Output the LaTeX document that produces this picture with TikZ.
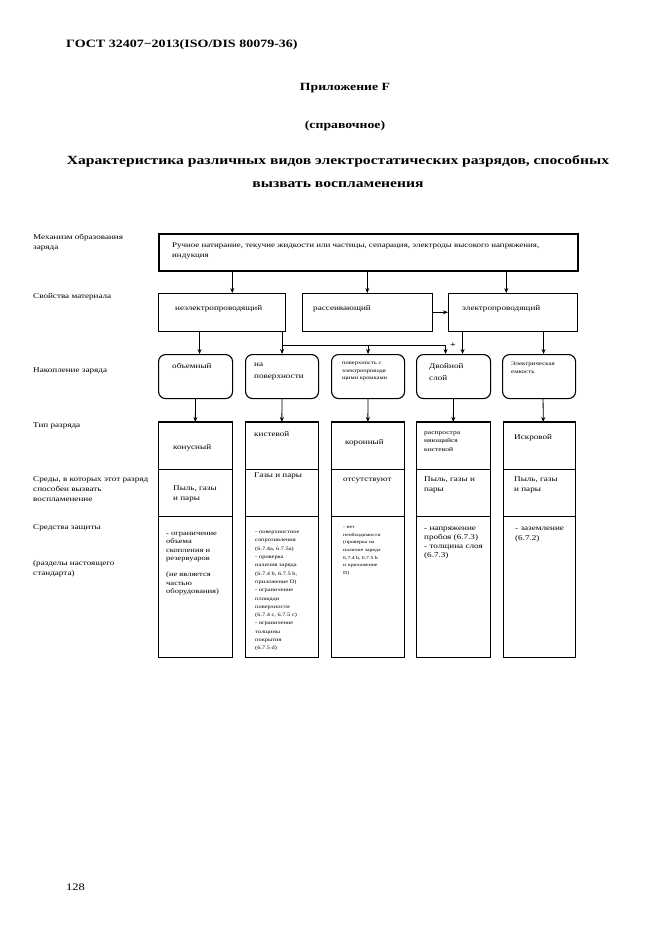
\documentclass[tikz,border=0pt]{standalone}
\usepackage{fontspec}
\setmainfont[FakeStretch=1.25]{Liberation Serif}
\usetikzlibrary{arrows.meta}

\tikzset{
  txt/.style={anchor=north west, inner sep=0pt, align=left, font=\fontsize{7.3}{10}\selectfont},
  sqbox/.style={draw, line width=0.6pt, anchor=north west, inner sep=0pt, minimum height=38pt},
  oval/.style={draw, line width=1.1pt, rounded corners=7pt, anchor=north west, inner sep=0pt, minimum height=44pt},
  cell/.style={draw, line width=0.6pt, anchor=north west, inner sep=0pt},
  arr/.style={-{Stealth[length=5pt,width=4pt]}, line width=0.8pt},
}

\begin{document}
\begin{tikzpicture}[x=1pt,y=-1pt]
\useasboundingbox (0,0) rectangle (661,935);

% page heading
\node[anchor=west, inner sep=0pt, font=\bfseries\fontsize{11.2}{13}\selectfont] (hdr) at (66,45) {ГОСТ 32407−2013(ISO/DIS 80079-36)};
\node[font=\bfseries\fontsize{11}{13}\selectfont] (app) at (345,88) {Приложение F};
\node[font=\bfseries\fontsize{11}{13}\selectfont] (ref) at (345,126) {(справочное)};
\node[align=center, font=\bfseries\fontsize{12.5}{23}\selectfont] (ttl) at (338,172) {Характеристика различных видов электростатических разрядов, способных\\вызвать воспламенения};
\node[anchor=west, inner sep=0pt, font=\fontsize{10}{12}\selectfont] (pg) at (66,887) {128};

% row captions
\node[txt] (l1) at (33,234) {Механизм образования\\заряда};
\node[txt] (l2) at (33,293) {Свойства материала};
\node[txt] (l3) at (33,368) {Накопление заряда};
\node[txt] (l4) at (33,423) {Тип разряда};
\node[txt] (l5) at (33,476) {Среды, в которых этот разряд\\способен вызвать\\воспламенение};
\node[txt] (l6) at (33,524) {Средства защиты};
\node[txt] (l7) at (33,560) {(разделы настоящего\\стандарта)};

% mechanism and material
\node[draw, line width=1.6pt, anchor=north west, inner sep=0pt, minimum width=419pt, minimum height=37pt] (mech) at (158,233) {};
\node[txt, font=\fontsize{7.15}{10}\selectfont] (mecht) at (172,243) {Ручное натирание, текучие жидкости или частицы, сепарация, электроды высокого напряжения,\\индукция};
\node[sqbox, minimum width=127pt] (nonc) at (158,293) {};
\node[sqbox, minimum width=130pt] (diss) at (302,293) {};
\node[sqbox, minimum width=129pt] (cond) at (448,293) {};
\node[txt] (nonct) at (175,305) {неэлектропроводящий};
\node[txt] (disst) at (313,305) {рассеивающий};
\node[txt] (condt) at (462,305) {электропроводящий};

% charge accumulation
\node[oval, minimum width=74pt] (vol) at (158,354) {};
\node[oval, minimum width=73pt] (surf) at (245,354) {};
\node[oval, minimum width=73pt] (edge) at (331,354) {};
\node[oval, minimum width=74pt] (dbl) at (416,354) {};
\node[oval, minimum width=73pt] (cap) at (502,354) {};
\node[txt] (volt) at (172,363) {объемный};
\node[txt, font=\fontsize{7.3}{12}\selectfont] (surft) at (254,363) {на\\поверхности};
\node[txt, font=\fontsize{5.2}{7.5}\selectfont] (edget) at (342,362) {поверхность с\\электропроводя\\щими кромками};
\node[txt, font=\fontsize{7.3}{12}\selectfont] (dblt) at (429,363) {Двойной\\слой};
\node[txt, font=\fontsize{5.5}{8}\selectfont] (capt) at (511,362) {Электрическая\\емкость};
\node[font=\bfseries\fontsize{8}{9}\selectfont, inner sep=0pt] (plus) at (453,345) {+};

% discharge columns
\node[cell, minimum width=74pt, minimum height=47pt] (t1) at (158,422) {};
\node[cell, minimum width=74pt, minimum height=47pt] (m1) at (158,469) {};
\node[cell, minimum width=74pt, minimum height=141pt] (p1) at (158,516) {};
\node[cell, minimum width=73pt, minimum height=47pt] (t2) at (245,422) {};
\node[cell, minimum width=73pt, minimum height=47pt] (m2) at (245,469) {};
\node[cell, minimum width=73pt, minimum height=141pt] (p2) at (245,516) {};
\node[cell, minimum width=73pt, minimum height=47pt] (t3) at (331,422) {};
\node[cell, minimum width=73pt, minimum height=47pt] (m3) at (331,469) {};
\node[cell, minimum width=73pt, minimum height=141pt] (p3) at (331,516) {};
\node[cell, minimum width=74pt, minimum height=47pt] (t4) at (416,422) {};
\node[cell, minimum width=74pt, minimum height=47pt] (m4) at (416,469) {};
\node[cell, minimum width=74pt, minimum height=141pt] (p4) at (416,516) {};
\node[cell, minimum width=72pt, minimum height=47pt] (t5) at (503,422) {};
\node[cell, minimum width=72pt, minimum height=47pt] (m5) at (503,469) {};
\node[cell, minimum width=72pt, minimum height=141pt] (p5) at (503,516) {};
\draw[line width=1.6pt] (t1.north west) -- (t1.north east) (p1.south west) -- (p1.south east);
\draw[line width=1.6pt] (t2.north west) -- (t2.north east) (p2.south west) -- (p2.south east);
\draw[line width=1.6pt] (t3.north west) -- (t3.north east) (p3.south west) -- (p3.south east);
\draw[line width=1.6pt] (t4.north west) -- (t4.north east) (p4.south west) -- (p4.south east);
\draw[line width=1.6pt] (t5.north west) -- (t5.north east) (p5.south west) -- (p5.south east);
\draw[line width=1.1pt] (t1.north east) -- (p1.south east) (t2.north east) -- (p2.south east)
  (t3.north east) -- (p3.south east) (t4.north east) -- (p4.south east) (t5.north east) -- (p5.south east);

\node[txt] (t1t) at (173,444) {конусный};
\node[txt] (t2t) at (254,431) {кистевой};
\node[txt] (t3t) at (345,439) {коронный};
\node[txt, font=\fontsize{6}{8.5}\selectfont] (t4t) at (424,431) {распростра\\няющийся\\кистевой};
\node[txt] (t5t) at (514,434) {Искровой};
\node[txt] (m1t) at (173,486) {Пыль, газы\\и пары};
\node[txt] (m2t) at (254,473) {Газы и пары};
\node[txt] (m3t) at (343,478) {отсутствуют};
\node[txt] (m4t) at (424,477) {Пыль, газы и\\пары};
\node[txt] (m5t) at (514,477) {Пыль, газы\\и пары};
\node[txt, font=\fontsize{6.8}{8.3}\selectfont] (p1t) at (166,532) {- ограничение\\объема\\скопления и\\резервуаров\\[8.3pt](не является\\частью\\оборудования)};
\node[txt, font=\fontsize{5.1}{8.3}\selectfont] (p2t) at (255,531) {- поверхностное\\сопротивления\\(6.7.4a, 6.7.5a)\\- проверка\\наличия заряда\\(6.7.4 b, 6.7.5 b,\\приложение D)\\- ограничение\\площади\\поверхности\\(6.7.4 c, 6.7.5 c)\\- ограничение\\толщины\\покрытия\\(6.7.5 d)};
\node[txt, font=\fontsize{4.6}{7.7}\selectfont] (p3t) at (343,526) {- нет\\необходимости\\(проверка на\\наличие заряда\\6.7.4 b, 6.7.5 b\\и приложение\\D)};
\node[txt, font=\fontsize{7.3}{9}\selectfont] (p4t) at (424,527) {- напряжение\\пробоя (6.7.3)\\- толщина слоя\\(6.7.3)};
\node[txt] (p5t) at (515,527) {- заземление\\(6.7.2)};

% connectors
\draw[arr] ([xshift=10.5pt]nonc.north |- mech.south) -- ([xshift=10.5pt]nonc.north);
\draw[arr] (diss.north |- mech.south) -- (diss.north);
\draw[arr] ([xshift=-6.5pt]cond.north |- mech.south) -- ([xshift=-6.5pt]cond.north);
\draw[arr] (diss.east) -- (cond.west);
\draw[arr] ([xshift=4pt]vol.north |- nonc.south) -- ([xshift=4pt]vol.north);
\draw[arr] (surf.north |- nonc.south) -- (surf.north);
\coordinate (jn) at ([yshift=-14pt]surf.north |- nonc.south);
\draw[arr] (jn) -| ([xshift=-8pt]dbl.north);
\draw[arr] (jn -| edge.north) -- (edge.north);
\draw[arr] ([xshift=9pt]dbl.north |- cond.south) -- ([xshift=9pt]dbl.north);
\draw[arr] ([xshift=4.5pt]cap.north |- cond.south) -- ([xshift=4.5pt]cap.north);
\draw[arr] (vol.south) -- (t1.north);
\draw[arr] (surf.south) -- (t2.north);
\draw[arr] (edge.south) -- (t3.north);
\draw[arr] (dbl.south) -- (t4.north);
\draw[arr] ([xshift=4pt]cap.south) -- ([xshift=4pt]t5.north);
\end{tikzpicture}
\end{document}
